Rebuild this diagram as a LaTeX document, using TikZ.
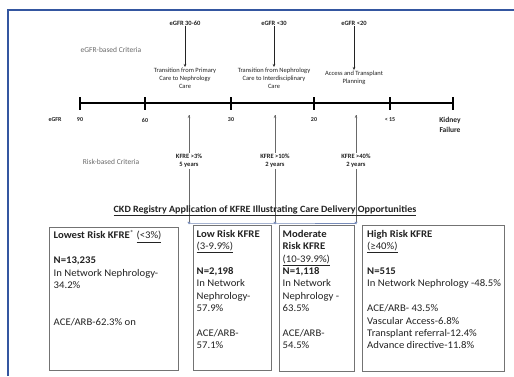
\documentclass[tikz,border=0pt]{standalone}
\usepackage{fontspec}
\setmainfont{Carlito}
\newfontfamily\boxfont[FakeStretch=1.05]{Carlito}
\usetikzlibrary{arrows.meta}
\definecolor{framebl}{RGB}{52,86,160}
\definecolor{boxgray}{RGB}{115,115,115}
\definecolor{txt}{RGB}{35,35,35}
\definecolor{softtxt}{RGB}{105,105,105}
\definecolor{linkbl}{RGB}{120,140,185}
\begin{document}
\begin{tikzpicture}[x=1pt,y=-1pt,
  toplbl/.style={font=\bfseries\fontsize{6.5}{8}\selectfont, text=txt, inner sep=1pt},
  transtxt/.style={font=\fontsize{6.5}{8}\selectfont, text=txt, align=center, inner sep=1pt},
  critlbl/.style={font=\fontsize{7.5}{9}\selectfont, text=softtxt, inner sep=1pt},
  axislbl/.style={font=\bfseries\fontsize{6}{7}\selectfont, text=txt, inner sep=1pt},
  kfrelbl/.style={font=\bfseries\fontsize{6.5}{8}\selectfont, text=txt, align=center, fill=white, inner sep=1.5pt},
  downarr/.style={draw=txt, line width=0.5pt, -{Stealth[length=3pt,width=2.5pt]}},
  uparr/.style={draw=softtxt, line width=0.5pt, -{Stealth[length=3pt,width=2.5pt]}},
  riskbox/.style={draw=boxgray, line width=1.1pt, anchor=north west, inner sep=0pt},
  boxtxt/.style={font=\boxfont\fontsize{10.2}{12.4}\selectfont, text=txt, align=left, anchor=north west, inner sep=0pt},
  tick/.style={draw=black, line width=1.2pt}
]
\useasboundingbox (0,0) rectangle (514,376);
\fill[white] (0,0) rectangle (514,376);

% outer frame
\draw[framebl, line width=1.6pt] (8,376) -- (8,10) -- (514,10);

% eGFR time line with its ticks
\foreach \nm/\xx in {t90/80, t60/145, t30/231, t20/314, t15/390, tkf/453}
  \coordinate (\nm) at (\xx,103);
\draw[black, line width=1.6pt] (t90) -- (tkf);
\foreach \nm in {t90, t60, t30, t20, t15, tkf}
  \draw[tick] (\nm) ++(0,-6) -- ++(0,13);

\node[axislbl] (lgfr) at (55,120) {eGFR};
\node[axislbl] (l90) at (80,120) {90};
\node[axislbl] (l60) at (145,120) {60};
\node[axislbl] (l30) at (231,120) {30};
\node[axislbl] (l20) at (314,120) {20};
\node[axislbl] (l15) at (390,120) {< 15};
\node[font=\bfseries\fontsize{7.5}{10}\selectfont, text=txt, align=center, inner sep=1pt] (lkf) at (450,125) {Kidney\\Failure};

% eGFR-based criteria
\node[critlbl] (egcrit) at (111,50) {eGFR-based Criteria};
\node[toplbl] (g1) at (185,23) {eGFR 30-60};
\node[toplbl] (g2) at (274,23) {eGFR <30};
\node[toplbl] (g3) at (354,23) {eGFR <20};
\node[transtxt, anchor=north] (tr1) at (185,67) {Transition from Primary\\Care to Nephrology\\Care};
\node[transtxt, anchor=north] (tr2) at (274,67) {Transition from Nephrology\\Care to Interdisciplinary\\Care};
\node[transtxt, anchor=north] (tr3) at (354,70) {Access and Transplant\\Planning};
\draw[downarr] (g1) -- (tr1);
\draw[downarr] (g2) -- (tr2);
\draw[downarr] (g3) -- (tr3);

% risk-based criteria
\node[critlbl] (rkcrit) at (111,162) {Risk-based Criteria};
\coordinate (b1) at (189,223);
\coordinate (b2) at (275,223);
\coordinate (b3) at (356,223);
\coordinate (u1) at (189,115);
\coordinate (u2) at (275,115);
\coordinate (u3) at (356,115);
\draw[softtxt, line width=0.5pt] (b1) -- (u1);
\draw[softtxt, line width=0.5pt] (b2) -- (u2);
\draw[softtxt, line width=0.5pt] (b3) -- (u3);
\node[kfrelbl] (k1) at (189,161) {KFRE >3\%\\5 years};
\node[kfrelbl] (k2) at (275,161) {KFRE >10\%\\2 years};
\node[kfrelbl] (k3) at (356,161) {KFRE >40\%\\2 years};
\draw[uparr] (k1) -- (u1);
\draw[uparr] (k2) -- (u2);
\draw[uparr] (k3) -- (u3);
\draw[linkbl, line width=0.5pt] (b1) -- (b2) -- (b3);
\foreach \c in {b1,b2,b3}
  \fill[linkbl] (\c) ++(-1.6,-1.2) -- ++(3.2,0) -- ++(-1.6,2.6) -- cycle;

% registry heading
\node[font=\boxfont\bfseries\fontsize{9.6}{12}\selectfont, text=txt, inner sep=0pt] (head) at (265,211)
  {\underline{CKD Registry Application of KFRE Illustrating Care Delivery Opportunities}};

% risk groups
\node[riskbox, minimum width=129, minimum height=143] (bx1) at (48.5,227) {};
\node[riskbox, minimum width=78, minimum height=145] (bx2) at (192.5,225) {};
\node[riskbox, minimum width=75, minimum height=146] (bx3) at (278.5,225) {};
\node[riskbox, minimum width=142, minimum height=146] (bx4) at (362,225) {};

\node[boxtxt] (tx1) at ([shift={(5,3)}]bx1.north west)
  {\textbf{Lowest Risk KFRE}\textsuperscript{*} \underline{(<3\%)}\\ ~\\
   \textbf{N=13,235}\\ In Network Nephrology-\\ 34.2\%\\ ~\\ ~\\ ACE/ARB-62.3\% on};
\node[boxtxt] (tx2) at ([shift={(4,5)}]bx2.north west)
  {\textbf{Low Risk KFRE}\\ \underline{(3-9.9\%)}\\ ~\\
   \textbf{N=2,198}\\ In Network\\ Nephrology-\\ 57.9\%\\ ~\\ ACE/ARB-\\ 57.1\%};
\node[boxtxt] (tx3) at ([shift={(4,5)}]bx3.north west)
  {\textbf{Moderate}\\ \textbf{Risk KFRE}\\ \underline{(10-39.9\%)}\\
   \textbf{N=1,118}\\ In Network\\ Nephrology -\\ 63.5\%\\ ~\\ ACE/ARB-\\ 54.5\%};
\node[boxtxt] (tx4) at ([shift={(5,5)}]bx4.north west)
  {\textbf{High Risk KFRE}\\ \underline{(≥40\%)}\\ ~\\
   \textbf{N=515}\\ In Network Nephrology -48.5\%\\ ~\\ ACE/ARB- 43.5\%\\
   Vascular Access-6.8\%\\ Transplant referral-12.4\%\\ Advance directive-11.8\%};
\end{tikzpicture}
\end{document}
